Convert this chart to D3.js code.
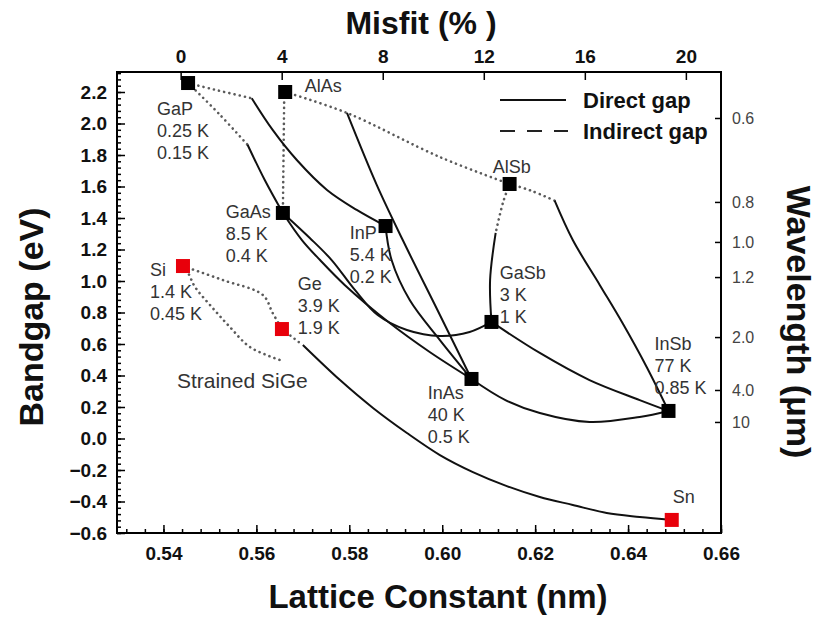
<!DOCTYPE html>
<html><head><meta charset="utf-8">
<script src="https://cdn.jsdelivr.net/npm/d3@7"></script>
<style>
body{margin:0;background:#fff}
svg{display:block}
text{font-family:"Liberation Sans",Arial,Helvetica,sans-serif}
</style>
</head><body>
<svg id="chart" width="817" height="617"></svg>
<script>
// ---------------- DATA ----------------
const materials   = ["GaP","AlAs","GaAs","InP","AlSb","Si","Ge","GaSb","InAs","InSb","Sn"];
const latticeNm   = [0.5453,0.5662,0.5657,0.5878,0.6145,0.5442,0.5655,0.6106,0.6063,0.6487,0.6494];
const bandgapEv   = [2.257,2.200,1.432,1.349,1.616,1.095,0.695,0.740,0.378,0.175,-0.517];
const isGroupIV   = [false,false,false,false,false,true,true,false,false,false,true];

// alloy curves: [lattice (nm), bandgap (eV)]
const GaInP_indirect = [[0.5453,2.257],[0.5510,2.215],[0.5590,2.160]];
const GaInP_direct   = [[0.5590,2.160],[0.5635,1.959],[0.5687,1.768],[0.5752,1.578],[0.5816,1.451],[0.5878,1.349]];
const GaAsP_indirect = [[0.5453,2.257],[0.5520,2.060],[0.5581,1.865]];
const GaAsP_direct   = [[0.5581,1.865],[0.5618,1.641],[0.5657,1.432]];
const AlGaAs_indirect= [[0.5660,2.200],[0.5657,1.432]];
const AlAsSb_indirect= [[0.5662,2.200],[0.5795,2.067],[0.5995,1.787],[0.6145,1.616]];
const AlInAs_direct  = [[0.5795,2.067],[0.5859,1.610],[0.5915,1.260],[0.5995,0.784],[0.6063,0.378]];
const InAsP_direct   = [[0.5878,1.349],[0.5891,1.133],[0.5930,0.879],[0.5995,0.625],[0.6063,0.378]];
const GaInAs_direct  = [[0.5657,1.432],[0.5698,1.260],[0.5737,1.133],[0.5790,0.975],[0.5887,0.733],[0.5973,0.549],[0.6063,0.378]];
const GaAsSb_direct  = [[0.5657,1.432],[0.5715,1.273],[0.5762,1.133],[0.5812,0.943],[0.5861,0.784],[0.5924,0.689],[0.5995,0.651],[0.6059,0.676],[0.6106,0.740]];
const AlInSb_indirect= [[0.6145,1.616],[0.6190,1.575],[0.6242,1.510]];
const AlInSb_direct  = [[0.6242,1.510],[0.6281,1.260],[0.6339,0.975],[0.6388,0.733],[0.6440,0.454],[0.6487,0.175]];
const AlGaSb_indirect= [[0.6145,1.616],[0.6131,1.500],[0.6115,1.305]];
const AlGaSb_direct  = [[0.6115,1.305],[0.6103,1.006],[0.6106,0.740]];
const GaInSb_direct  = [[0.6106,0.740],[0.6210,0.543],[0.6317,0.371],[0.6425,0.244],[0.6487,0.175]];
const InAsSb_direct  = [[0.6063,0.378],[0.6136,0.244],[0.6210,0.162],[0.6317,0.105],[0.6425,0.137],[0.6487,0.175]];
const SiGe_indirect  = [[0.5442,1.095],[0.5528,1.006],[0.5614,0.911],[0.5635,0.797],[0.5655,0.695]];
const StrainedSiGe_indirect = [[0.5442,1.095],[0.5453,1.051],[0.5468,0.962],[0.5504,0.835],[0.5543,0.708],[0.5586,0.581],[0.5651,0.498]];
const GeSn_indirect  = [[0.5655,0.695],[0.5694,0.606]];
const GeSn_direct    = [[0.5700,0.594],[0.5780,0.371],[0.5851,0.194],[0.5924,0.035],[0.5995,-0.105],[0.6066,-0.213],[0.6139,-0.302],[0.6210,-0.371],[0.6281,-0.422],[0.6354,-0.473],[0.6425,-0.498],[0.6494,-0.517]];

const directCurves   = [GaInP_direct,GaAsP_direct,AlInAs_direct,InAsP_direct,GaInAs_direct,GaAsSb_direct,AlInSb_direct,AlGaSb_direct,GaInSb_direct,InAsSb_direct,GeSn_direct];
const indirectCurves = [GaInP_indirect,GaAsP_indirect,AlGaAs_indirect,AlAsSb_indirect,AlInSb_indirect,AlGaSb_indirect,SiGe_indirect,StrainedSiGe_indirect,GeSn_indirect];

// annotations (text lines, anchor in data units: left edge, first line centre)
const labelLines = [["GaP","0.25 K","0.15 K"],["AlAs"],["GaAs","8.5 K","0.4 K"],["InP","5.4 K","0.2 K"],["AlSb"],["GaSb","3 K","1 K"],["Si","1.4 K","0.45 K"],["Ge","3.9 K","1.9 K"],["InAs","40 K","0.5 K"],["InSb","77 K","0.85 K"],["Sn"]];
const labelA = [0.5386,0.5704,0.5534,0.5801,0.6109,0.6124,0.5371,0.5689,0.5969,0.6457,0.6496];
const labelE = [2.098,2.238,1.438,1.305,1.724,1.051,1.070,0.987,0.295,0.606,-0.371];
const strainedLabel = "Strained SiGe";
const strainedA = 0.5429, strainedE = 0.371;

// axes ticks
const xMajor = [0.54,0.56,0.58,0.60,0.62,0.64,0.66];
const xMinor = d3.range(0,33).map(i => +(0.532 + i*0.004).toFixed(3));
const yMajor = [-0.6,-0.4,-0.2,0.0,0.2,0.4,0.6,0.8,1.0,1.2,1.4,1.6,1.8,2.0,2.2];
const yMinor = d3.range(0,74).map(i => +(-0.6 + i*0.04).toFixed(2));
const misfitTicks = [0,4,8,12,16,20];
const misfitRef = 0.5437;
const wavelengthLabels = ["0.6","0.8","1.0","1.2","2.0","4.0","10"];
const wavelengthEnergy = [2.035,1.502,1.248,1.025,0.644,0.308,0.105];

// ---------------- DRAW ----------------
const svg = d3.select("#chart");
const L=117, R=721, T=72, B=533;
const x = d3.scaleLinear().domain([0.530,0.660]).range([L,R]);
const y = d3.scaleLinear().domain([-0.6,2.327]).range([B,T]);
const mis = a => (a/misfitRef - 1)*100;
const xTop = d3.scaleLinear().domain([mis(0.530),mis(0.660)]).range([L,R]);

const line = d3.line().x(d=>x(d[0])).y(d=>y(d[1])).curve(d3.curveCatmullRom.alpha(0.5));

// curves
svg.append("g").selectAll("path").data(indirectCurves).join("path")
  .attr("d", line).attr("fill","none").attr("stroke","#5a5a5a")
  .attr("stroke-width",2.6).attr("stroke-linecap","round").attr("stroke-dasharray","0.1 5.2");
svg.append("g").selectAll("path").data(directCurves).join("path")
  .attr("d", line).attr("fill","none").attr("stroke","#111").attr("stroke-width",2);

// axes
function styleAxis(g){ g.select(".domain").remove(); g.selectAll("line").attr("stroke","#000").attr("stroke-width",1.5); }
const bold = g => g.selectAll("text").attr("font-weight","bold").attr("font-size",19).attr("fill","#111")
  .attr("font-family",'"Liberation Sans",Arial,sans-serif');

svg.append("g").attr("transform",`translate(0,${B})`)
  .call(d3.axisBottom(x).tickValues(xMinor).tickSizeInner(-4).tickSizeOuter(0).tickFormat(""))
  .call(styleAxis);
svg.append("g").attr("transform",`translate(0,${B})`)
  .call(d3.axisBottom(x).tickValues(xMajor).tickSizeInner(-8).tickSizeOuter(0).tickPadding(14).tickFormat(d3.format(".2f")))
  .call(styleAxis).call(bold);

svg.append("g").attr("transform",`translate(${L},0)`)
  .call(d3.axisLeft(y).tickValues(yMinor).tickSizeInner(-4).tickSizeOuter(0).tickFormat(""))
  .call(styleAxis);
svg.append("g").attr("transform",`translate(${L},0)`)
  .call(d3.axisLeft(y).tickValues(yMajor).tickSizeInner(-8).tickSizeOuter(0).tickPadding(10).tickFormat(d3.format(".1f")))
  .call(styleAxis).call(bold);

svg.append("g").attr("transform",`translate(0,${T})`)
  .call(d3.axisTop(xTop).tickValues(misfitTicks).tickSizeInner(-8).tickSizeOuter(0).tickPadding(9).tickFormat(d3.format("d")))
  .call(styleAxis).call(bold);

const rightAx = svg.append("g").attr("transform",`translate(${R},0)`)
  .call(d3.axisRight(y).tickValues(wavelengthEnergy).tickSizeInner(-6).tickSizeOuter(0).tickPadding(11)
        .tickFormat((d,i)=>wavelengthLabels[i]))
  .call(styleAxis);
rightAx.selectAll("text").attr("font-size",16).attr("fill","#444")
  .attr("font-family",'"Liberation Sans",Arial,sans-serif');

// frame
svg.append("rect").attr("x",L).attr("y",T).attr("width",R-L).attr("height",B-T)
  .attr("fill","none").attr("stroke","#000").attr("stroke-width",2);

// markers
const mk = 14;
svg.append("g").selectAll("rect").data(materials).join("rect")
  .attr("x",(d,i)=>x(latticeNm[i])-mk/2).attr("y",(d,i)=>y(bandgapEv[i])-mk/2)
  .attr("width",mk).attr("height",mk)
  .attr("fill",(d,i)=>isGroupIV[i] ? "#e8000b" : "#000");

// labels
const lg = svg.append("g").attr("fill","#333").attr("font-size",18);
labelLines.forEach((lines,i)=>{
  const t = lg.append("text").attr("x",x(labelA[i])).attr("y",y(labelE[i]));
  lines.forEach((s,j)=>{
    t.append("tspan").attr("x",x(labelA[i])).attr("y",y(labelE[i])+22*j).attr("dy","0.36em").text(s);
  });
});
lg.append("text").attr("x",x(strainedA)).attr("y",y(strainedE)).attr("dy","0.36em")
  .attr("font-size",21).text(strainedLabel);

// legend
const leg = svg.append("g");
leg.append("line").attr("x1",500).attr("x2",566).attr("y1",100).attr("y2",100).attr("stroke","#111").attr("stroke-width",2);
leg.append("line").attr("x1",500).attr("x2",568).attr("y1",131).attr("y2",131).attr("stroke","#222").attr("stroke-width",2).attr("stroke-dasharray","15 12");
leg.append("text").attr("x",583).attr("y",100).attr("dy","0.36em").attr("font-size",22).attr("font-weight","bold").attr("fill","#111").text("Direct gap");
leg.append("text").attr("x",583).attr("y",131).attr("dy","0.36em").attr("font-size",22).attr("font-weight","bold").attr("fill","#111").text("Indirect gap");

// titles
svg.append("text").attr("x",421).attr("y",34).attr("text-anchor","middle").attr("font-size",32).attr("font-weight","bold").attr("fill","#111").text("Misfit (% )");
svg.append("text").attr("x",438).attr("y",608).attr("text-anchor","middle").attr("font-size",33).attr("font-weight","bold").attr("fill","#111").text("Lattice Constant (nm)");
svg.append("text").attr("transform","translate(43,317) rotate(-90)").attr("text-anchor","middle").attr("font-size",34).attr("font-weight","bold").attr("fill","#111").text("Bandgap (eV)");
svg.append("text").attr("transform","translate(787,322) rotate(90)").attr("text-anchor","middle").attr("font-size",34).attr("font-weight","bold").attr("fill","#111").text("Wavelength (μm)");
</script>
</body></html>
